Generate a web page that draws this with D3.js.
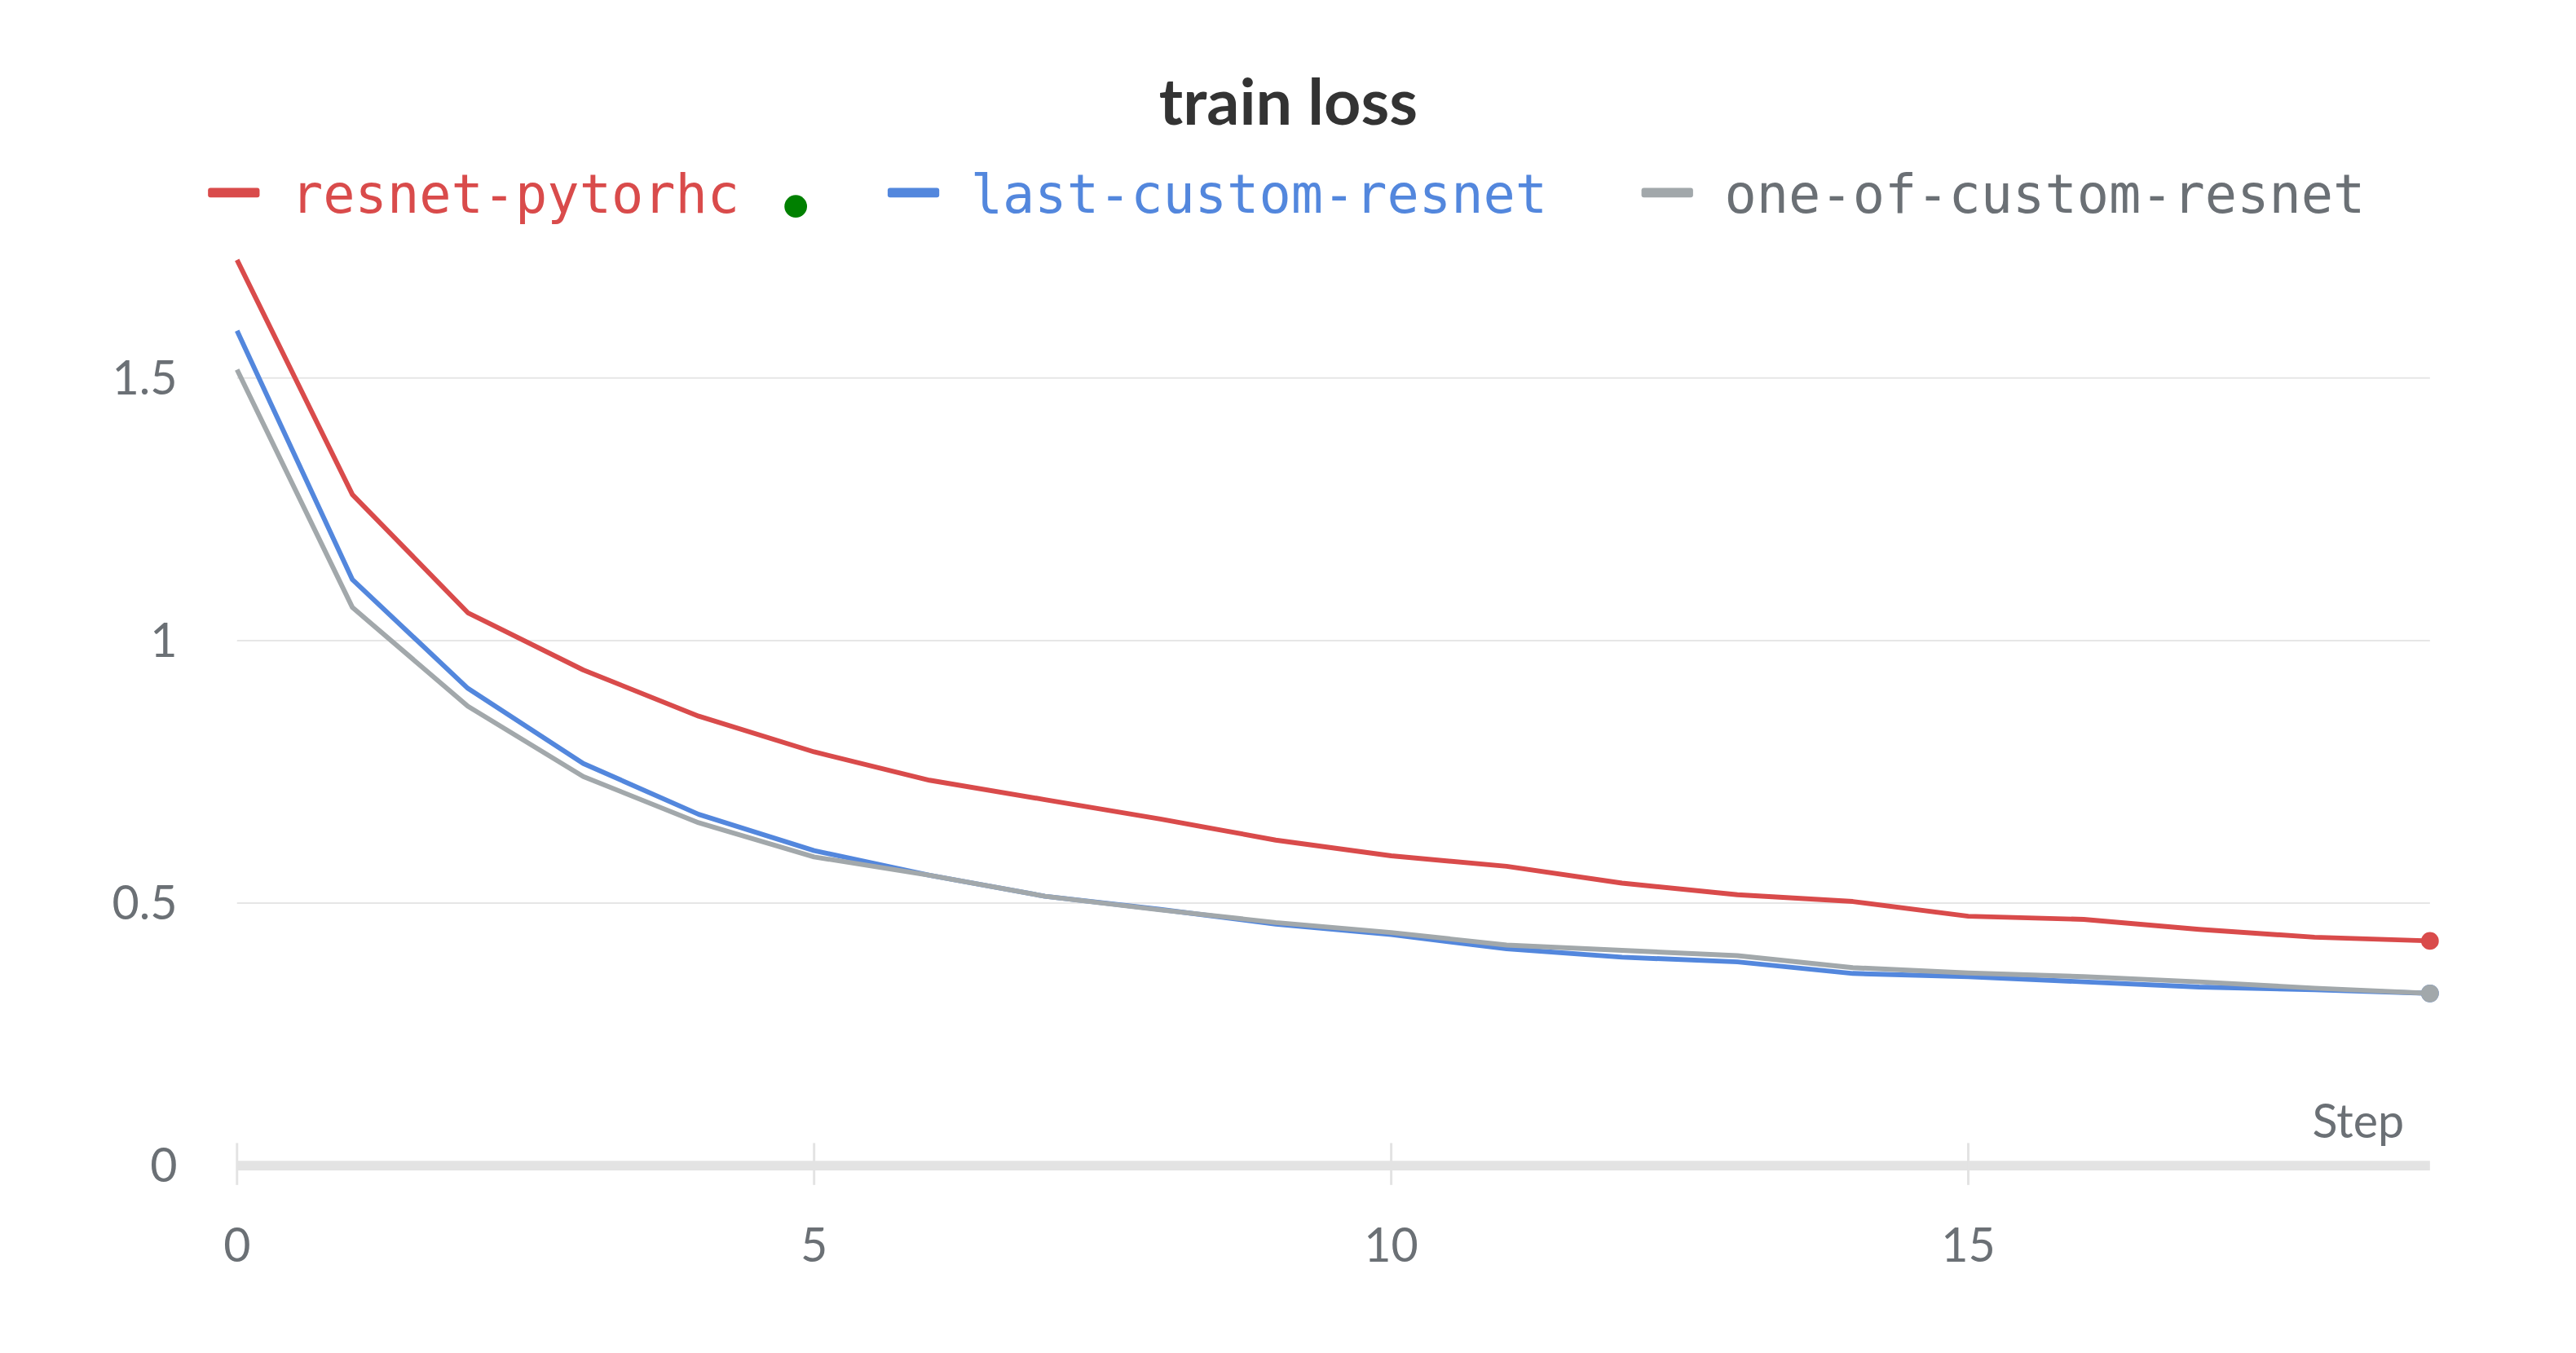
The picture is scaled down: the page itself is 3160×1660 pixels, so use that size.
<!DOCTYPE html>
<html><head><meta charset="utf-8">
<script src="https://cdn.jsdelivr.net/npm/d3@7"></script>
<style>body{margin:0;background:#fff}</style>
</head><body><div id="chart"></div>
<script>
// data
const steps = d3.range(0, 20);
const resnetPytorch = [1.725,1.278,1.053,0.944,0.856,0.788,0.734,0.697,0.66,0.62,0.59,0.57,0.538,0.516,0.503,0.475,0.469,0.45,0.435,0.428];
const lastCustom = [1.59,1.116,0.909,0.766,0.669,0.6,0.553,0.513,0.488,0.46,0.44,0.413,0.397,0.388,0.366,0.36,0.35,0.34,0.335,0.328];
const oneOfCustom = [1.516,1.063,0.875,0.741,0.653,0.588,0.553,0.513,0.487,0.463,0.444,0.42,0.41,0.4,0.377,0.367,0.36,0.35,0.338,0.328];
const yTicks = [0, 0.5, 1, 1.5];
const xTicks = [0, 5, 10, 15];

const series = [
  {name: "resnet-pytorhc", values: resnetPytorch, color: "#d94b4b", lx: 258},
  {name: "last-custom-resnet", values: lastCustom, color: "#5387dd", lx: 1101},
  {name: "one-of-custom-resnet", values: oneOfCustom, color: "#a2a8ab", text: "#6b7075", lx: 2036}
];

const W = 3160, H = 1660;
const root = d3.select("#chart").append("svg").attr("width", W).attr("height", H);
const svg = root.append("g").attr("transform", "scale(0.989)");
const x = d3.scaleLinear().domain([0, 19]).range([294, 3014]);
const y = d3.scaleLinear().domain([0, 1.5]).range([1446, 469]);

// grid
svg.append("g").selectAll("line").data(yTicks.filter(d => d > 0)).join("line")
  .attr("x1", 294).attr("x2", 3014).attr("y1", d => y(d)).attr("y2", d => y(d))
  .attr("stroke", "#e6e6e6").attr("stroke-width", 2);
svg.append("g").selectAll("text").data(yTicks).join("text")
  .attr("x", 220).attr("y", d => y(d)).attr("dy", "0.35em").attr("text-anchor", "end")
  .attr("font-family", "Lato, 'Noto Sans', sans-serif").attr("font-size", 58).attr("fill", "#6b7075")
  .text(d => d);

// x axis
svg.append("line").attr("x1", 294).attr("x2", 3014).attr("y1", y(0)).attr("y2", y(0))
  .attr("stroke", "#e3e3e3").attr("stroke-width", 12);
svg.append("g").selectAll("line").data(xTicks).join("line")
  .attr("x1", d => x(d)).attr("x2", d => x(d)).attr("y1", 1418).attr("y2", 1470)
  .attr("stroke", "#e3e3e3").attr("stroke-width", 3);
svg.append("g").selectAll("text").data(xTicks).join("text")
  .attr("x", d => x(d)).attr("y", 1565).attr("text-anchor", "middle")
  .attr("font-family", "Lato, 'Noto Sans', sans-serif").attr("font-size", 58).attr("fill", "#6b7075")
  .text(d => d);
svg.append("text").attr("x", 2982).attr("y", 1412).attr("text-anchor", "end")
  .attr("font-family", "Lato, 'Noto Sans', sans-serif").attr("font-size", 58).attr("fill", "#6b7075").text("Step");

// lines
const line = d3.line().x((d, i) => x(steps[i])).y(d => y(d));
series.forEach(s => {
  svg.append("path").attr("d", line(s.values)).attr("fill", "none")
    .attr("stroke", s.color).attr("stroke-width", 6).attr("stroke-linejoin", "round");
  svg.append("circle").attr("cx", x(19)).attr("cy", y(s.values[19])).attr("r", 11).attr("fill", s.color);
});

// title
svg.append("text").attr("x", 1598).attr("y", 155).attr("text-anchor", "middle")
  .attr("font-family", "Lato, 'Noto Sans', sans-serif").attr("font-weight", "bold")
  .attr("font-size", 80).attr("fill", "#333").text("train loss");

// legend
const leg = svg.append("g");
series.forEach(s => {
  leg.append("rect").attr("x", s.lx).attr("y", 233).attr("width", 64).attr("height", 12).attr("rx", 3).attr("fill", s.color);
  leg.append("text").attr("x", s.lx + 103).attr("y", 264)
    .attr("font-family", "'DejaVu Sans Mono', monospace").attr("font-size", 66)
    .attr("fill", s.text || s.color).text(s.name);
});
leg.append("circle").attr("cx", 987).attr("cy", 256).attr("r", 14).attr("fill", "#008000");
</script></body></html>
